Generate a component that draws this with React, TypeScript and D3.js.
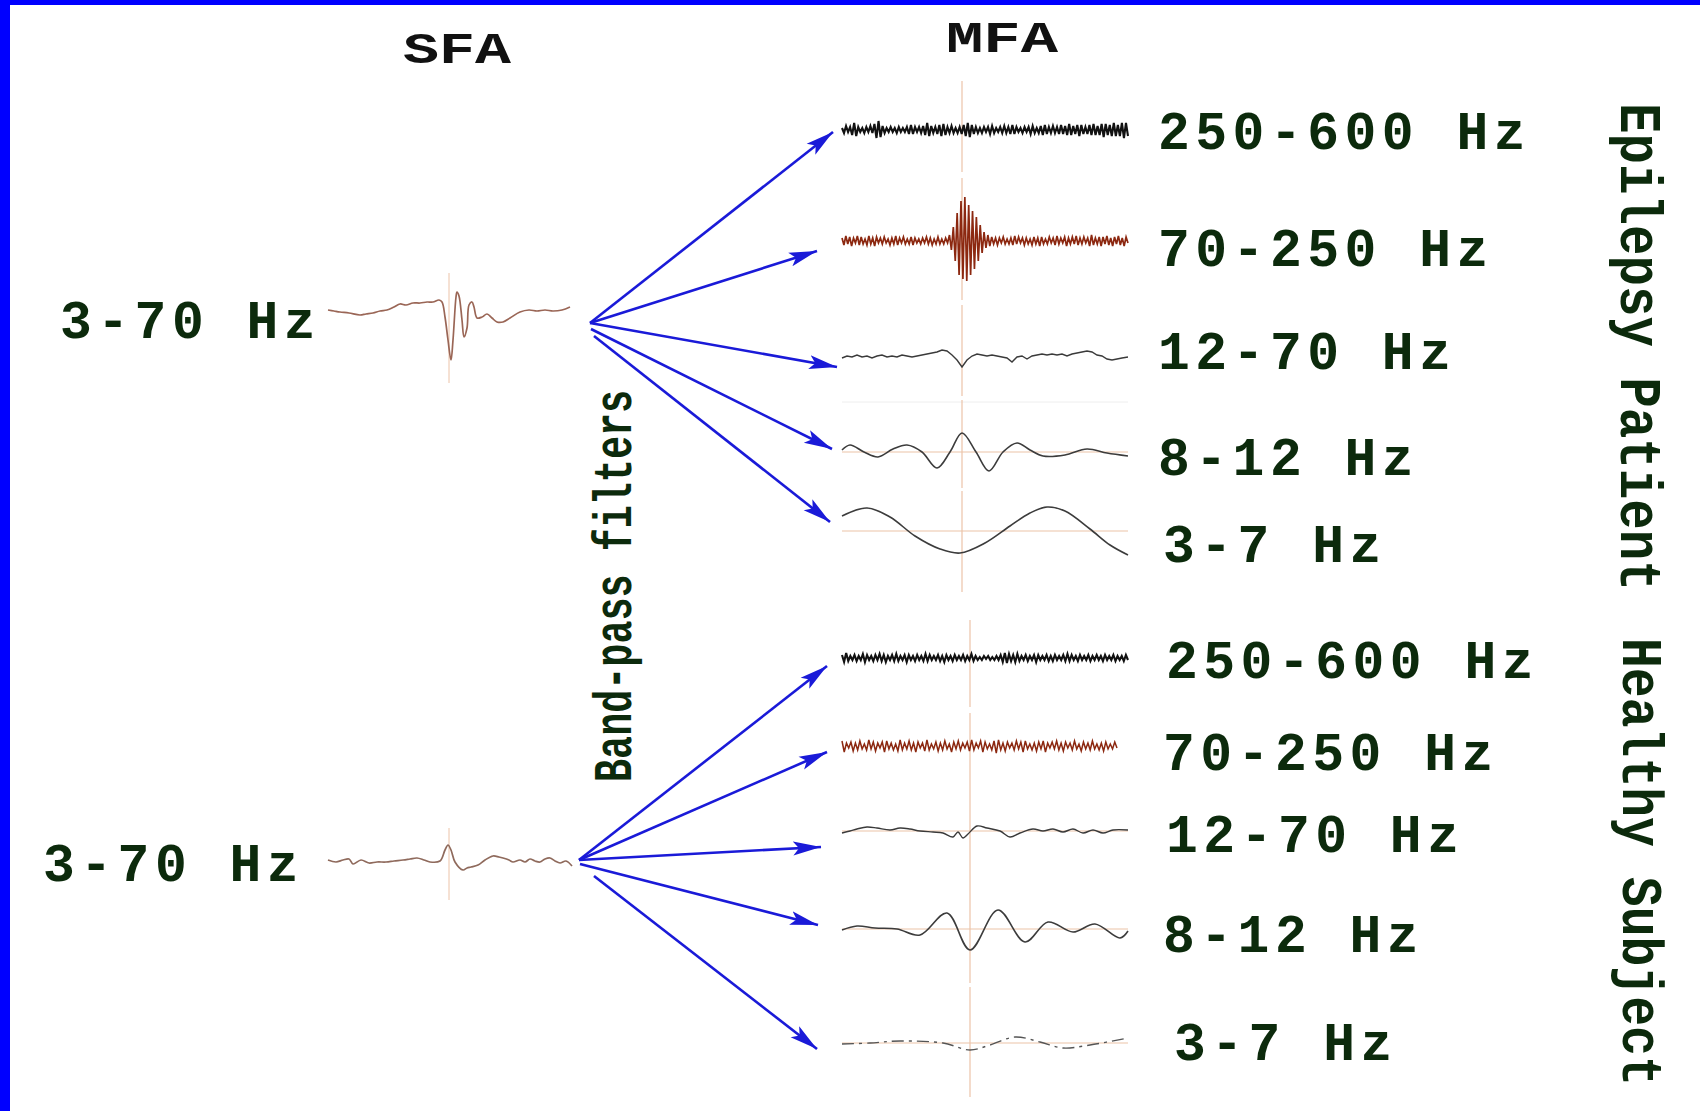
import React from 'react';
import * as d3 from 'd3';

// --- labels ---
const titles = ['SFA', 'MFA'];
const bandLabels = ['250-600 Hz', '70-250 Hz', '12-70 Hz', '8-12 Hz', '3-7 Hz'];
const sourceLabel = '3-70 Hz';
const groupLabels = ['Epilepsy Patient', 'Healthy Subject'];
const filterLabel = 'Band-pass filters';

// --- SFA (3-70 Hz) traces, [ms from event, amplitude] ---
const sfaEpilepsy: [number, number][] = [
  [-121, 1], [-115, 0], [-109, -1], [-100, -2], [-89, -4], [-83, -3], [-76, -2], [-69, 0], [-62, 1], [-55, 4],
  [-49, 7], [-43, 6], [-36, 8], [-29, 8], [-22, 9], [-16, 9], [-10, 11], [-7, 9], [-4, -6], [-1, -29],
  [2, -49], [4, -29], [7, 14], [8, 19], [10, 15], [13, -9], [15, -26], [18, -17], [20, 6], [23, 9],
  [25, 4], [28, -7], [33, -6], [38, -3], [43, -7], [48, -11], [54, -11], [61, -7], [71, -1], [80, 1],
  [88, 0], [96, 1], [104, 0], [113, 1], [121, 4],
];
const sfaHealthy: [number, number][] = [
  [-121, 0], [-113, -2], [-106, 0], [-100, 1], [-96, -4], [-88, 0], [-80, -3], [-72, -2], [-63, -2], [-55, -1],
  [-46, 0], [-39, 1], [-32, 2], [-25, 0], [-19, -2], [-9, -1], [-4, 10], [-1, 15], [2, 10], [6, -2],
  [14, -10], [18, -8], [22, -7], [29, -5], [36, 0], [44, 4], [50, 3], [54, 2], [60, 0], [64, -2],
  [71, 0], [76, -2], [81, 1], [86, -1], [91, -2], [96, 1], [101, 2], [106, -1], [111, -3], [117, -1], [123, -6],
];

// --- MFA traces, epilepsy patient ---
const epi250 = [
  2, -3, 4, -2, 3, -5, 7, -6, 3, -2, 2, -3, 3, -2, 4, -3, 6, -8, 9, -7, 4, -3, 2, -2, 3, -2, 2, -3, 3, -2,
  2, -2, 3, -4, 5, -4, 3, -2, 3, -3, 4, -5, 7, -6, 4, -3, 3, -4, 5, -6, 6, -5, 3, -3, 4, -3, 2, -3, 3, -4,
  5, -6, 7, -7, 5, -4, 3, -3, 2, -3, 3, -2, 3, -4, 4, -3, 2, -2, 3, -3, 4, -3, 3, -4, 5, -4, 3, -2, 2, -3,
  3, -2, 3, -4, 4, -3, 2, -3, 4, -5, 5, -4, 3, -3, 4, -3, 3, -4, 5, -4, 4, -5, 6, -5, 4, -4, 5, -6, 5, -4,
  3, -4, 5, -5, 6, -5, 4, -5, 6, -7, 6, -5, 5, -6, 7, -6, 5, -6, 7, -8, 7, -6,
];
const epi70 = [
  3, -4, 5, -3, 4, -5, 3, -2, 5, -4, 4, -3, 2, -4, 5, -3, 3, -5, 4, -2, 3, -3, 4, -2, 2, -4, 3, -3, 5, -4,
  3, -2, 4, -3, 2, -3, 4, -4, 3, -2, 2, -3, 3, -2, 4, -3, 3, -4, 2, -3, 4, -3, 2, -3, 3, -2,
  6, -9, 14, -20, 28, -34, 40, -38, 44, -40, 36, -34, 30, -28, 24, -20, 16, -12, 9, -7, 6, -5, 4, -3,
  3, -4, 3, -2, 4, -3, 2, -3, 3, -4, 5, -3, 4, -2, 3, -4, 3, -3, 2, -4, 4, -3, 3, -5, 4, -3, 2, -3, 4, -2,
  3, -4, 5, -3, 3, -2, 4, -5, 3, -3, 4, -3, 5, -4, 3, -3, 4, -2, 3, -5, 6, -4, 3, -3, 4, -5, 4, -3, 5, -4,
  3, -5, 4, -3, 5, -4, 3, -5, 4, -2,
];
const epi12: [number, number][] = [
  [-120, -1], [-115, 1], [-110, 0], [-105, 2], [-100, 0], [-95, 1], [-90, -1], [-85, 1], [-80, 2], [-75, 0],
  [-70, 1], [-65, 0], [-60, 2], [-55, 1], [-50, 0], [-45, 1], [-40, 2], [-35, 3], [-30, 4], [-25, 5],
  [-20, 7], [-15, 6], [-10, 2], [-5, -3], [0, -10], [5, -3], [10, 1], [15, 3], [20, 2], [25, 1],
  [30, 2], [35, 1], [40, 0], [45, -1], [50, -5], [55, 0], [60, 1], [65, -2], [70, 1], [75, 2],
  [80, 3], [85, 2], [90, 3], [95, 2], [100, 3], [105, 1], [110, 3], [115, 4], [120, 5], [125, 6],
  [130, 5], [135, 2], [140, 1], [145, -2], [150, -3], [155, -2], [160, -1], [166, 0],
];
const epi8: [number, number][] = [
  [-120, 2], [-112, 7], [-98, 0], [-84, -5], [-69, 3], [-55, 7], [-40, 0], [-25, -16], [-12, 0], [0, 19],
  [14, 0], [27, -19], [41, 0], [55, 9], [68, 2], [81, -4], [103, -3], [125, 3], [145, -1], [166, -4],
];
const epi3: [number, number][] = [
  [-120, 15], [-95, 23], [-72, 14], [-47, -5], [-22, -18], [-2, -22], [23, -12], [48, 5], [68, 18], [85, 24],
  [103, 20], [128, 2], [148, -14], [166, -24],
];

// --- MFA traces, healthy subject ---
const hea250 = [
  3, -4, 5, -3, 2, -2, 3, -3, 2, -2, 4, -4, 3, -2, 2, -3, 3, -2, 4, -3, 3, -4, 2, -2, 3, -3, 4, -3, 2, -2,
  3, -4, 3, -2, 2, -3, 3, -2, 2, -3, 4, -3, 3, -2, 2, -2, 3, -3, 2, -4, 3, -2, 2, -3, 3, -2, 2, -2, 3, -3,
  2, -2, 4, -3, 2, -2, 1, -2, 2, -1, 2, -2, 1, -2, 2, -2, 3, -4, 5, -5, 4, -3, 3, -4, 4, -3, 2, -2, 3, -3,
  2, -2, 3, -4, 3, -2, 2, -2, 3, -3, 2, -3, 3, -2, 2, -2, 3, -3, 4, -3, 3, -2, 2, -3, 3, -2, 2, -2, 3, -3,
  2, -2, 3, -2, 2, -3, 3, -2, 2, -2, 3, -3, 2, -2, 2, -3, 3, -2,
];
const hea70 = [
  5, -6, 3, -2, 4, -5, 3, -4, 5, -3, 2, -4, 6, -3, 4, -5, 3, -2, 4, -6, 5, -3, 3, -4, 2, -5, 6, -4, 3, -3,
  5, -4, 3, -6, 4, -2, 3, -5, 6, -4, 2, -3, 4, -5, 3, -4, 5, -3, 2, -6, 4, -3, 5, -4, 3, -2, 4, -5, 6, -4,
  3, -2, 5, -6, 4, -3, 2, -4, 5, -7, 6, -4, 3, -5, 4, -2, 3, -4, 5, -3, 4, -6, 5, -3, 2, -4, 3, -5, 4, -3,
  5, -6, 3, -2, 4, -3, 5, -4, 3, -5, 4, -2, 3, -4, 5, -3, 2, -5, 4, -3, 3, -4, 5, -3, 2, -4, 3, -5, 4, -3,
  2, -3, 4, -2,
];
const hea12: [number, number][] = [
  [-128, -2], [-120, 0], [-113, 2], [-103, 4], [-93, 3], [-80, 1], [-70, 3], [-60, 2], [-50, 0], [-37, -1],
  [-27, -2], [-17, -6], [-12, -1], [-7, -7], [-2, -3], [7, 5], [17, 3], [30, 0], [40, -6], [50, -2],
  [63, 2], [73, 0], [83, 2], [93, -1], [103, 2], [113, -2], [123, 1], [133, -2], [143, 1], [158, 1],
];
const hea8: [number, number][] = [
  [-128, -1], [-113, 3], [-95, 1], [-73, 0], [-50, -6], [-23, 16], [0, -21], [28, 19], [55, -13], [78, 7],
  [103, -3], [125, 5], [150, -9], [158, -2],
];
const hea3: [number, number][] = [
  [-128, -1], [-100, 0], [-70, 2], [-27, 0], [0, -7], [20, -2], [45, 6], [70, 1], [93, -5], [120, -2], [158, 5],
];

// time span (ms) of the uniformly sampled traces
const epiSpan = [-120, 166];
const heaSpan = [-128, 158];
const hea70Span = [-128, 147];

const FONT = "'Courier New', 'Liberation Mono', monospace";
const GREEN = '#0c2a0c';
const BLUE = '#1a1ad8';
const GRID = '#ecc3a8';

const uniform = (vals: number[], span: number[]): [number, number][] =>
  vals.map((v, i) => [span[0] + (i * (span[1] - span[0])) / (vals.length - 1), v]);

const App = () => {
  const mfaX0 = 842;
  const mfaX1 = 1128;
  const xEpi = d3.scaleLinear().domain(epiSpan).range([mfaX0, mfaX1]);
  const xHea = d3.scaleLinear().domain(heaSpan).range([mfaX0, mfaX1]);
  const xSfa = d3.scaleLinear().domain([-121, 123]).range([328, 572]);

  const yAt = (cy: number) => d3.scaleLinear().domain([-50, 50]).range([cy + 50, cy - 50]);

  const path = (data: [number, number][], x: d3.ScaleLinear<number, number>, cy: number, curve: d3.CurveFactory) => {
    const y = yAt(cy);
    return d3.line<[number, number]>().x(d => x(d[0])).y(d => y(d[1])).curve(curve)(data) || '';
  };

  const epiRows = [
    { cy: 130, data: uniform(epi250, epiSpan), color: '#111', w: 2.1, curve: d3.curveLinear, seg: [81, 172] },
    { cy: 241, data: uniform(epi70, epiSpan), color: '#8c2810', w: 1.7, curve: d3.curveLinear, seg: [178, 300] },
    { cy: 357, data: epi12, color: '#3a3a3a', w: 1.4, curve: d3.curveLinear, seg: [305, 396] },
    { cy: 452, data: epi8, color: '#3c3c3c', w: 1.6, curve: d3.curveCatmullRom, seg: [400, 488], base: true },
    { cy: 531, data: epi3, color: '#3c3c3c', w: 1.6, curve: d3.curveCatmullRom, seg: [491, 592], base: true },
  ];
  const heaRows = [
    { cy: 658, data: uniform(hea250, heaSpan), color: '#111', w: 2.1, curve: d3.curveLinear, seg: [620, 707] },
    { cy: 746, data: uniform(hea70, hea70Span), color: '#8c2810', w: 1.5, curve: d3.curveLinear, seg: [713, 800] },
    { cy: 831, data: hea12, color: '#3a3a3a', w: 1.4, curve: d3.curveCatmullRom, seg: [800, 880], base: true },
    { cy: 929, data: hea8, color: '#3c3c3c', w: 1.6, curve: d3.curveCatmullRom, seg: [880, 983], base: true },
    { cy: 1043, data: hea3, color: '#555', w: 1.4, curve: d3.curveCatmullRom, seg: [987, 1097], base: true, dash: '12 5 3 5' },
  ];

  const epiLabelPos = [[1158, 149], [1158, 266], [1158, 369], [1158, 475], [1163, 562]];
  const heaLabelPos = [[1166, 678], [1163, 770], [1166, 852], [1163, 952], [1174, 1060]];

  // arrows: origin -> tip
  const epiArrows = [
    [[590, 323], [833, 132]],
    [[590, 323], [817, 251]],
    [[590, 323], [837, 367]],
    [[591, 329], [832, 449]],
    [[594, 336], [830, 522]],
  ];
  const heaArrows = [
    [[579, 860], [827, 666]],
    [[579, 860], [827, 752]],
    [[579, 860], [821, 847]],
    [[580, 864], [818, 925]],
    [[594, 876], [817, 1049]],
  ];

  const labelStyle = { fontFamily: FONT, fontWeight: 700, fontSize: 53, letterSpacing: 5.5, fill: GREEN } as const;

  return (
    <svg width={1700} height={1111} style={{ position: 'absolute', left: 0, top: 0, background: '#fff' }}>
      <defs>
        <marker id="ah" viewBox="0 -8 28 16" refX={28} refY={0} markerWidth={28} markerHeight={16}
          markerUnits="userSpaceOnUse" orient="auto">
          <path d="M0,-7L28,0L0,7L6,0Z" fill={BLUE} />
        </marker>
      </defs>
      <rect x={0} y={0} width={1700} height={1111} fill="#fff" />
      <rect x={0} y={0} width={10} height={1111} fill="#0000ff" />
      <rect x={0} y={0} width={1700} height={5} fill="#0000ff" />

      {/* titles */}
      <text x={403} y={63} textLength={108} lengthAdjust="spacingAndGlyphs"
        style={{ fontFamily: FONT, fontWeight: 700, fontSize: 44, fill: '#111' }}>{titles[0]}</text>
      <text x={946} y={52} textLength={112} lengthAdjust="spacingAndGlyphs"
        style={{ fontFamily: FONT, fontWeight: 700, fontSize: 44, fill: '#111' }}>{titles[1]}</text>

      {/* SFA */}
      <line x1={xSfa(0)} x2={xSfa(0)} y1={273} y2={383} stroke={GRID} strokeWidth={1} />
      <line x1={xSfa(0)} x2={xSfa(0)} y1={828} y2={900} stroke={GRID} strokeWidth={1} />
      <path d={path(sfaEpilepsy, xSfa, 311, d3.curveCatmullRom)} fill="none" stroke="#9a6656" strokeWidth={1.7} />
      <path d={path(sfaHealthy, xSfa, 860, d3.curveCatmullRom)} fill="none" stroke="#8f6a5c" strokeWidth={1.7} />
      <text x={60} y={338} style={labelStyle}>{sourceLabel}</text>
      <text x={43} y={881} style={labelStyle}>{sourceLabel}</text>

      {/* faint separator */}
      <line x1={mfaX0} x2={mfaX1} y1={402} y2={402} stroke="#eeeeee" strokeWidth={1} />

      {/* MFA epilepsy */}
      {epiRows.map((r, i) => (
        <g key={'e' + i}>
          <line x1={xEpi(0)} x2={xEpi(0)} y1={r.seg[0]} y2={r.seg[1]} stroke={GRID} strokeWidth={1.2} />
          {r.base && <line x1={mfaX0} x2={mfaX1} y1={r.cy} y2={r.cy} stroke={GRID} strokeWidth={1.2} />}
          <path d={path(r.data, xEpi, r.cy, r.curve)} fill="none" stroke={r.color} strokeWidth={r.w} />
          <text x={epiLabelPos[i][0]} y={epiLabelPos[i][1]} style={labelStyle}>{bandLabels[i]}</text>
        </g>
      ))}

      {/* MFA healthy */}
      {heaRows.map((r, i) => (
        <g key={'h' + i}>
          <line x1={xHea(0)} x2={xHea(0)} y1={r.seg[0]} y2={r.seg[1]} stroke={GRID} strokeWidth={1.2} />
          {r.base && <line x1={mfaX0} x2={mfaX1} y1={r.cy} y2={r.cy} stroke={GRID} strokeWidth={1.2} />}
          <path d={path(r.data, xHea, r.cy, r.curve)} fill="none" stroke={r.color} strokeWidth={r.w}
            strokeDasharray={r.dash} />
          <text x={heaLabelPos[i][0]} y={heaLabelPos[i][1]} style={labelStyle}>{bandLabels[i]}</text>
        </g>
      ))}

      {/* arrows */}
      {[...epiArrows, ...heaArrows].map((a, i) => (
        <line key={'a' + i} x1={a[0][0]} y1={a[0][1]} x2={a[1][0]} y2={a[1][1]}
          stroke={BLUE} strokeWidth={2.6} markerEnd="url(#ah)" />
      ))}

      {/* vertical labels (compressed along the reading direction) */}
      <text transform="translate(631,782) rotate(-90) scale(0.712,1)"
        style={{ fontFamily: FONT, fontWeight: 700, fontSize: 54, fill: GREEN }}>{filterLabel}</text>
      <text transform="translate(1621,103) rotate(90) scale(0.847,1)"
        style={{ fontFamily: FONT, fontWeight: 700, fontSize: 60, fill: GREEN }}>{groupLabels[0]}</text>
      <text transform="translate(1623,638) rotate(90) scale(0.858,1)"
        style={{ fontFamily: FONT, fontWeight: 700, fontSize: 58, fill: GREEN }}>{groupLabels[1]}</text>
    </svg>
  );
};

export default App;
